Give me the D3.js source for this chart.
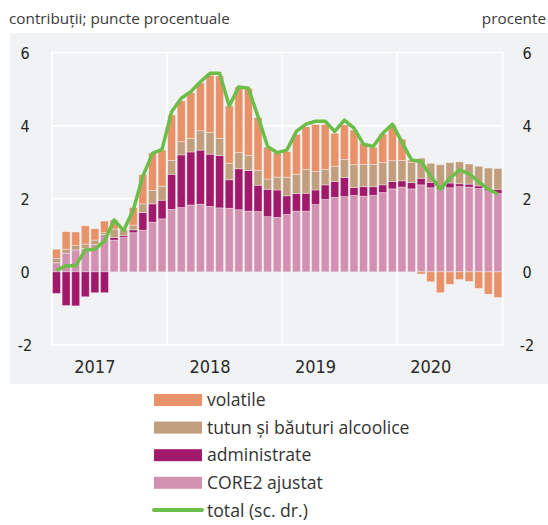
<!DOCTYPE html>
<html lang="ro">
<head>
<meta charset="UTF-8">
<script src="https://d3js.org/d3.v7.min.js"></script>
<style>
  body { margin: 0; background: #fff; }
  .tick-lbl { font-family: "Liberation Sans Narrow", "DejaVu Sans Condensed", sans-serif; font-size: 16px; fill: #222; }
  .year-lbl { font-family: "Liberation Sans Narrow", "DejaVu Sans Condensed", sans-serif; font-size: 18px; fill: #2a2a2a; }
  .unit-lbl { font-family: "Open Sans", sans-serif; font-size: 15.3px; fill: #3a3a3a; }
  .legend text { font-family: "Open Sans", sans-serif; font-size: 17.6px; fill: #333; }
</style>
</head>
<body>
<svg width="548" height="525"></svg>
<script>
// lunile: ian 2017 - nov 2020
const months = d3.range(47).map(i => {
  const y = 2017 + Math.floor(i / 12), m = i % 12 + 1;
  return `${y}-${String(m).padStart(2, "0")}`;
});

// contributii, puncte procentuale
const core2 = [0.25, 0.51, 0.60, 0.64, 0.75, 1.02, 0.87, 0.94, 1.07, 1.14, 1.36, 1.45,
               1.71, 1.76, 1.83, 1.85, 1.79, 1.75, 1.74, 1.70, 1.66, 1.65, 1.51, 1.49,
               1.57, 1.66, 1.66, 1.84, 1.98, 2.04, 2.06, 2.09, 2.07, 2.09, 2.17, 2.27,
               2.32, 2.27, 2.38, 2.30, 2.25, 2.30, 2.33, 2.32, 2.28, 2.22, 2.14];
const administrate = [-0.59, -0.92, -0.93, -0.68, -0.57, -0.57, 0.07, 0.05, 0.08, 0.48, 0.50, 0.51,
               0.96, 1.44, 1.45, 1.48, 1.43, 1.43, 0.78, 1.12, 1.11, 0.72, 0.75, 0.75,
               0.51, 0.48, 0.49, 0.40, 0.40, 0.43, 0.52, 0.22, 0.26, 0.24, 0.21, 0.20,
               0.17, 0.17, 0.18, 0.15, 0.05, 0.13, 0.08, 0.08, 0.07, 0.05, 0.12];
const tutun = [0.12, 0.11, 0.12, 0.12, 0.12, 0.05, 0.23, 0.16, 0.13, 0.24, 0.37, 0.38,
               0.38, 0.36, 0.37, 0.53, 0.59, 0.47, 0.45, 0.45, 0.42, 0.41, 0.28, 0.35,
               0.51, 0.53, 0.65, 0.51, 0.42, 0.42, 0.50, 0.62, 0.61, 0.61, 0.61, 0.57,
               0.56, 0.56, 0.55, 0.52, 0.63, 0.56, 0.60, 0.55, 0.54, 0.57, 0.57];
const volatile = [0.25, 0.48, 0.37, 0.50, 0.31, 0.32, 0.25, 0.02, 0.48, 0.80, 1.02, 0.99,
               1.24, 1.12, 1.25, 1.31, 1.57, 1.71, 1.57, 1.79, 1.83, 1.44, 0.87, 0.66,
               0.70, 1.09, 1.17, 1.28, 1.23, 0.90, 0.94, 0.95, 0.58, 0.47, 0.78, 0.97,
               0.58, 0.06, -0.06, -0.27, -0.57, -0.34, -0.21, -0.26, -0.45, -0.61, -0.70];
// total (sc. dr.), procente
const total = [0.04, 0.17, 0.17, 0.60, 0.62, 0.84, 1.42, 1.13, 1.69, 2.62, 3.24, 3.35,
               4.38, 4.75, 4.93, 5.20, 5.43, 5.43, 4.54, 5.06, 5.02, 4.25, 3.43, 3.26,
               3.33, 3.84, 4.04, 4.12, 4.12, 3.84, 4.15, 3.93, 3.49, 3.43, 3.79, 4.04,
               3.55, 3.06, 3.02, 2.62, 2.26, 2.56, 2.79, 2.68, 2.47, 2.26, 2.13];

const yTicks = [-2, 0, 2, 4, 6];
const years = ["2017", "2018", "2019", "2020"];
const yearLabelMonth = ["2017-05", "2018-05", "2019-04", "2020-04"];

const keys = ["core2", "administrate", "tutun", "volatile"];
const names = { core2: "CORE2 ajustat", administrate: "administrate",
                tutun: "tutun și băuturi alcoolice", volatile: "volatile" };
const colors = { core2: "#D391B1", administrate: "#A1196A", tutun: "#C19F7E", volatile: "#E8926A" };

const rows = months.map((m, i) => ({
  month: m, core2: core2[i], administrate: administrate[i], tutun: tutun[i], volatile: volatile[i]
}));

const svg = d3.select("svg");
const plot = { left: 51.7, right: 502.7, top: 52.5, bottom: 345 };

// fundal gri
svg.append("rect").attr("x", 10).attr("y", 33).attr("width", 538).attr("height", 351)
  .attr("fill", "#F1F2F4");

const x = d3.scaleBand().domain(months).range([plot.left, plot.right])
  .paddingInner(0.17).paddingOuter(0.085);
const y = d3.scaleLinear().domain([-2, 6]).range([plot.bottom, plot.top]);

// grila
const grid = svg.append("g").attr("stroke", "#fff").attr("stroke-width", 1.5).attr("fill", "none");
grid.append("rect").attr("x", plot.left).attr("y", plot.top)
  .attr("width", plot.right - plot.left).attr("height", plot.bottom - plot.top);
grid.selectAll("line.h").data([2, 4]).join("line").attr("class", "h")
  .attr("x1", plot.left).attr("x2", plot.right)
  .attr("y1", d => y(d)).attr("y2", d => y(d));
grid.selectAll("line.v").data(years.slice(1)).join("line").attr("class", "v")
  .attr("x1", d => x(d + "-01") - x.step() * x.paddingInner() / 2)
  .attr("x2", d => x(d + "-01") - x.step() * x.paddingInner() / 2)
  .attr("y1", plot.top).attr("y2", plot.bottom);

// bare stivuite
const series = d3.stack().keys(keys).offset(d3.stackOffsetDiverging)(rows);
svg.append("g").selectAll("g").data(series).join("g")
  .attr("fill", d => colors[d.key])
  .selectAll("rect").data(d => d).join("rect")
  .attr("x", d => x(d.data.month))
  .attr("width", x.bandwidth())
  .attr("y", d => y(Math.max(d[0], d[1])))
  .attr("height", d => Math.abs(y(d[0]) - y(d[1])))
  .attr("stroke", "rgba(255,255,255,0.45)")
  .attr("stroke-width", 0.8);

// linia total
const line = d3.line()
  .x((d, i) => x(months[i]) + x.bandwidth() / 2)
  .y(d => y(d));
svg.append("path").datum(total)
  .attr("d", line)
  .attr("fill", "none")
  .attr("stroke", "#6CBE4B")
  .attr("stroke-width", 3.5)
  .attr("stroke-linejoin", "round");

// axe
svg.append("g").selectAll("text").data(yTicks).join("text")
  .attr("class", "tick-lbl").attr("x", 25).attr("y", d => y(d) + 6)
  .attr("text-anchor", "middle").text(d => d);
svg.append("g").selectAll("text").data(yTicks).join("text")
  .attr("class", "tick-lbl").attr("x", 527).attr("y", d => y(d) + 6)
  .attr("text-anchor", "middle").text(d => d);
svg.append("g").selectAll("text").data(years).join("text")
  .attr("class", "year-lbl")
  .attr("x", (d, i) => x(yearLabelMonth[i]) + x.bandwidth() / 2)
  .attr("y", 373).attr("text-anchor", "middle").text(d => d);

svg.append("text").attr("class", "unit-lbl").attr("x", 9).attr("y", 24)
  .text("contribuții; puncte procentuale");
svg.append("text").attr("class", "unit-lbl").attr("x", 546).attr("y", 24)
  .attr("text-anchor", "end").text("procente");

// legenda
const legendItems = ["volatile", "tutun", "administrate", "core2"];
const legend = svg.append("g").attr("class", "legend");
legend.selectAll("rect").data(legendItems).join("rect")
  .attr("x", 154).attr("y", (d, i) => 394 + i * 27.6)
  .attr("width", 48).attr("height", 12)
  .attr("fill", d => colors[d]);
legend.selectAll("text.k").data(legendItems).join("text").attr("class", "k")
  .attr("x", 207).attr("y", (d, i) => 406 + i * 27.6)
  .text(d => names[d]);
legend.append("line").attr("x1", 154).attr("x2", 202).attr("y1", 510).attr("y2", 510)
  .attr("stroke", "#6CBE4B").attr("stroke-width", 4).attr("stroke-linecap", "round");
legend.append("text").attr("x", 207).attr("y", 516.5).text("total (sc. dr.)");
</script>
</body>
</html>
